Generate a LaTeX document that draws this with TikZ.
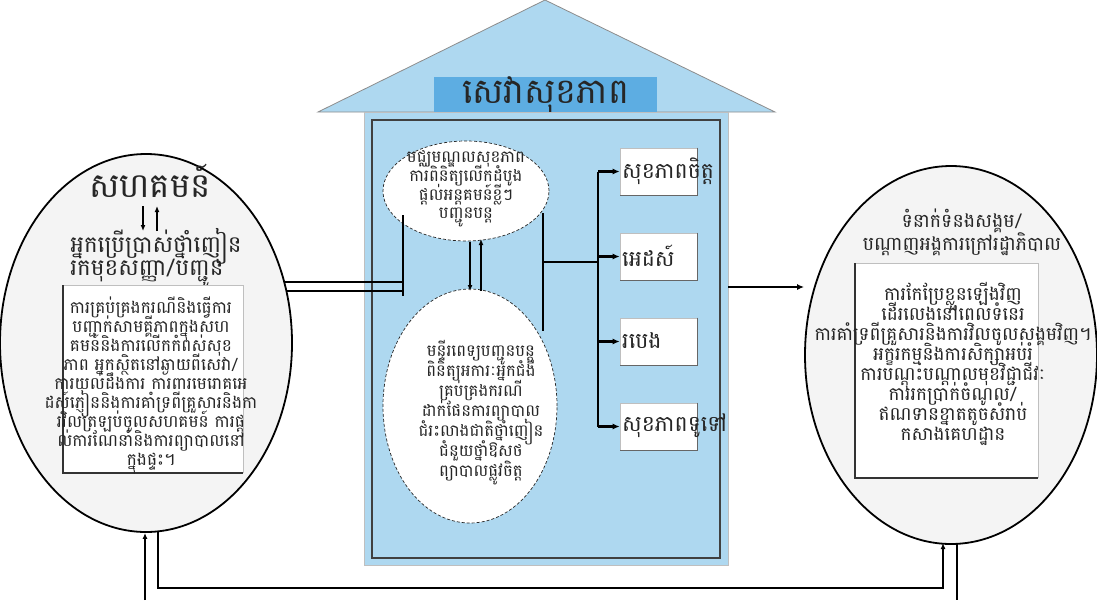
\documentclass[tikz,border=0pt]{standalone}
\usepackage{fontspec}
\newfontfamily\kh[Script=Khmer]{Battambang}
\usetikzlibrary{shapes.geometric,arrows.meta}
\definecolor{houseblue}{HTML}{AED8F0}
\definecolor{titleblue}{HTML}{5DADE2}
\definecolor{ellgray}{HTML}{F4F4F4}
\newcommand{\khfs}[2]{\kh\fontsize{#1}{#2}\selectfont\lineskiplimit=-100pt\lineskip=0pt}
\begin{document}
\begin{tikzpicture}[x=1pt,y=-1pt,
  bigell/.style={ellipse, draw=black, line width=1.8, fill=ellgray, inner sep=0},
  cell/.style={ellipse, draw=black!85, densely dashed, line width=0.7, fill=white, inner sep=0},
  txt/.style={font=\khfs{16.5}{19}, align=center, inner sep=0, text=black!85},
  boxtxt/.style={font=\khfs{22}{24}, anchor=west, inner sep=0, text=black!85},
  sbox/.style={fill=white, draw=black!25, line width=0.6, minimum width=77, minimum height=47, inner sep=0},
  conn/.style={line width=2.2, draw=black},
  arr/.style={conn, -{Latex[length=7,width=6]}},
  thinarr/.style={line width=1.8, draw=black, -{Latex[length=6,width=5]}}
]
\useasboundingbox (0,0) rectangle (1097,600);
\clip (0,0) rectangle (1097,600);

% ---------- house ----------
\draw[fill=houseblue, draw=black!45, line width=0.8] (318,112) -- (545,0) -- (775,112) -- cycle;
\node[fill=titleblue, minimum width=223, minimum height=30, inner sep=0] (title) at (545.5,95)
  {\khfs{35}{36}\textcolor{black!85}{សេវាសុខភាព}};
\node[fill=houseblue, draw=black!25, line width=0.8, minimum width=364, minimum height=453, inner sep=0] (body) at (546,338.5) {};
\node[draw=black!75, line width=1.2, minimum width=348, minimum height=438, inner sep=0] (inner) at (546,339) {};

% ---------- left ellipse ----------
\node[bigell, minimum width=292, minimum height=378] (L) at (146,343) {};
\node[txt, font=\khfs{34}{36}] (comm) at (150,181) {សហគមន៍};
\coordinate (cd1) at (143,206);
\coordinate (cd2) at (143,231);
\draw[thinarr] (cd1) -- (cd2);
\draw[thinarr] (cd2 -| 157,0) -- (cd1 -| 157,0);
\node[txt, font=\khfs{23}{23}, align=left] (user) at (156,258)
  {អ្នកប្រើប្រាស់ថ្នាំញៀន\\រកមុខសញ្ញា/បញ្ជូន};
\fill[white] (63,285) rectangle (243,473);
\draw[black!25, line width=1] (63,285) -- (243,285) -- (243,473);
\draw[black!80, line width=1.4] (63,285) -- (63,473) -- (243,473);
\node[txt, font=\khfs{17}{19}] (ltext) at (151,386)
  {ការគ្រប់គ្រងករណីនិងធ្វើការ\\បញ្ជាក់សាមគ្គីភាពក្នុងសហ\\គមន៍និងការលើកកំពស់សុខ\\ភាព អ្នកស្ថិតនៅឆ្ងាយពីសេវា/\\ការយល់ដឹងការ ការពារមេរោគអេ\\ដស៍ភ្ញៀននិងការគាំទ្រពីគ្រួសារនិងកា\\រវិលត្រឡប់ចូលសហគមន៍ ការផ្ត\\ល់ការណែនាំនិងការព្យាបាលនៅ\\ក្នុងផ្ទះ។};

% ---------- right ellipse ----------
\node[bigell, minimum width=292, minimum height=378] (R) at (951,355) {};
\node[txt, font=\khfs{19}{23}] (rtitle) at (962,232)
  {ទំនាក់ទំនងសង្គម/\\បណ្តាញអង្គការក្រៅរដ្ឋាភិបាល};
\fill[white] (855,263) rectangle (1038,478);
\draw[black!25, line width=1] (855,263) -- (1038,263) -- (1038,478);
\draw[black!80, line width=1.4] (855,263) -- (855,478) -- (1038,478);
\node[txt, font=\khfs{18.5}{20}] (rtext) at (953,364)
  {ការកែប្រែខ្លួនឡើងវិញ\\ដើរលេងនៅពេលទំនេរ\\ការគាំទ្រពីគ្រួសារនិងការវិលចូលសង្គមវិញ។\\អក្ខរកម្មនិងការសិក្សាអប់រំ\\ការបណ្តុះបណ្តាលមុខវិជ្ជាជីវៈ\\ការរកប្រាក់ចំណូល/\\ឥណទានខ្នាតតូចសំរាប់\\កសាងគេហដ្ឋាន};

% ---------- centre ellipses ----------
\node[cell, minimum width=166, minimum height=100] (ctop) at (466,191) {};
\node[txt, font=\khfs{16.5}{18.7}] (ctoptext) at (466,189)
  {មជ្ឈមណ្ឌលសុខភាព\\ការពិនិត្យលើកដំបូង\\ផ្តល់អន្តគមន៍ខ្លីៗ\\បញ្ជូនបន្ត};
\node[cell, minimum width=174, minimum height=234] (cbot) at (470,406) {};
\node[txt, font=\khfs{16.5}{20}] (cbottext) at (481,413)
  {មន្ទីរពេទ្យបញ្ជូនបន្ត\\ពិនិត្យអការៈអ្នកជំងឺ\\គ្រប់គ្រងករណី\\ដាក់ផែនការព្យាបាល\\ជំរះលាងជាតិថ្នាំញៀន\\ជំនួយថ្នាំឱសថ\\ព្យាបាលផ្លូវចិត្ត};
\draw[thinarr] (470,242) -- (470,291);
\draw[thinarr] (481,291) -- (481,239);

% ---------- service boxes ----------
\foreach \n/\y in {b1/171.5, b2/256.5, b3/341.5, b4/426.5}{
  \node[sbox] (\n) at (658.5,\y) {};
  \draw[black!60, line width=1.2] (\n.north east) -- (\n.south east) -- (\n.south west);
}
\node[boxtxt] at (622,171) {សុខភាពចិត្ត};
\node[boxtxt] at (622,256) {អេដស៍};
\node[boxtxt] at (622,341) {របេង};
\node[boxtxt] at (622,426) {សុខភាពទូទៅ};

% ---------- connectors ----------
\coordinate (barLt) at (403,215);
\coordinate (barLb) at (403,296);
\draw[conn] (barLt) -- (barLb);
\coordinate (le1) at (285,282);
\coordinate (le2) at (286,291);
\draw[conn] (le1) -- (le1 -| barLt);
\draw[conn] (le2) -- (le2 -| barLt);

\coordinate (barRt) at (543,213);
\coordinate (barRb) at (543,331);
\draw[conn] (barRt) -- (barRb);
\coordinate (spT) at (598,171.5);
\coordinate (spB) at (598,426.5);
\draw[conn] (spT) -- (spB);
\draw[conn] (543,262) -- (598,262);
\foreach \n in {b1,b2,b3,b4}{
  \draw[arr] (spT |- \n.west) -- (\n.west);
}

\coordinate (hr) at (728,287);
\draw[arr] (hr) -- (hr -| R.west);

% bottom loop
\coordinate (lb1) at (145,600);
\draw[thinarr] (lb1) -- (lb1 |- L.south);
\coordinate (lb2) at (158,531);
\coordinate (rb2) at (943,543);
\draw[line width=1.8, -{Latex[length=6,width=5]}] (lb2) -- (158,588) -- (943,588) -- (rb2);
\coordinate (rb3) at (957,543);
\draw[line width=1.8] (rb3) -- (957,600);
\end{tikzpicture}
\end{document}
